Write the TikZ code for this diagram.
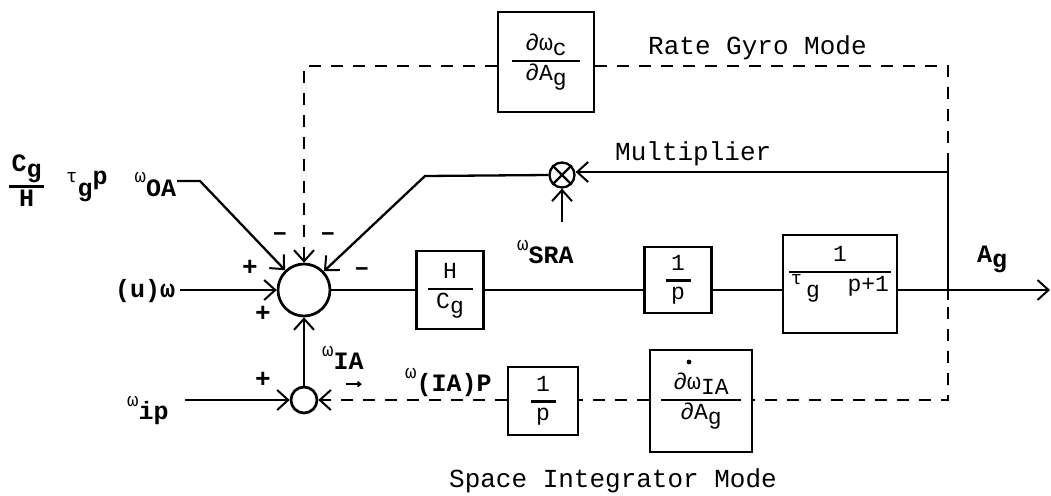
\documentclass[tikz,border=0pt]{standalone}
\usepackage{fontspec}
\setmonofont{Liberation Mono}
\usetikzlibrary{arrows.meta}
\newcommand\sub[1]{\raisebox{-0.45ex}{#1}}
\newcommand\gk[1]{\raisebox{0.6ex}{\fontsize{19}{19}\selectfont\mdseries #1}}
\newcommand\fr[3]{$\vcenter{\offinterlineskip\halign{\hfil##\hfil\cr\strut #1\cr\noalign{\kern2pt}\rule{#3}{2.6pt}\cr\noalign{\kern1pt}\strut #2\cr}}$}
\begin{document}
\begin{tikzpicture}[x=1pt,y=-1pt,
  every node/.style={font=\fontsize{23}{24}\selectfont\ttfamily, inner sep=0pt},
  big/.style={font=\fontsize{26}{28}\selectfont\ttfamily},
  lab/.style={font=\fontsize{25}{26}\selectfont\ttfamily\bfseries},
  sgn/.style={font=\fontsize{26}{26}\selectfont\ttfamily\bfseries},
  blk/.style 2 args={draw, line width=2.5pt, minimum width=#1, minimum height=#2},
  ln/.style={line width=2.3pt},
  dsh/.style={line width=2.3pt, dash pattern=on 12pt off 10pt},
  arr/.style={-{Straight Barb[length=11pt,width=20pt,line width=2pt]}},
  sumc/.style={draw, circle, line width=2.7pt, inner sep=0pt}]
\useasboundingbox (0,0) rectangle (1051,495);
% summing junctions
\node[sumc, minimum size=52pt] (sum) at (304,290) {};
\node[sumc, minimum size=26pt] (sum2) at (304,400) {};
\node[sumc, minimum size=25pt, line width=2.3pt] (mul) at (562,175) {};
\draw[ln] (mul.north west) -- (mul.south east) (mul.north east) -- (mul.south west);
% blocks
\node[blk={67pt}{78pt}] (hc) at (450,290) {\fr{H}{C\sub{g}}{45pt}};
\node[blk={67pt}{66pt}] (p1) at (678,280) {\fr{1}{p}{25pt}};
\node[blk={114pt}{98pt}] (tau) at (840,284) {\fr{1}{\gk{τ}\,\sub{g}\ \ p+1}{102pt}\rule[-44pt]{0pt}{1pt}};
\node[blk={96pt}{100pt}] (dc) at (546,62) {\fr{∂ω\sub{c}}{∂A\sub{g}}{68pt}};
\node[blk={102pt}{102pt}] (dia) at (701,401) {\fr{∂ω\sub{IA}}{∂A\sub{g}}{80pt}};
\node[blk={70pt}{68pt}] (p2) at (543,401) {\fr{1}{p}{25pt}};
\fill ([xshift=-12pt,yshift=39pt]dia.center) circle (2.4pt);
% coordinates
\coordinate (c1) at (304,66);
\coordinate (c2) at (948,66);
\coordinate (c3) at (948,400);
\coordinate (t1) at (948,157);
\coordinate (t2) at (948,300);
\coordinate (tm) at (948,172);
\coordinate (out) at (1050,290);
\coordinate (k1) at (425,176);
\coordinate (m2) at (562,222);
\coordinate (oa) at (177,181);
\coordinate (oa2) at (200,181);
\coordinate (uw) at (180,290);
\coordinate (ip) at (185,400);
% forward path
\draw[ln] (sum.east) -- (hc.west |- sum.east);
\draw[ln] (hc.east |- sum.east) -- (p1.west |- sum.east);
\draw[ln] (p1.east |- sum.east) -- (tau.west |- sum.east);
\draw[ln,arr] (tau.east |- sum.east) -- (out);
% rate gyro loop
\draw[dsh,arr] (dc.west |- c1) -- (c1) -- (sum.north);
\draw[dsh] (dc.east |- c1) -- (c2) -- (c3) -- (dia.east |- c3);
\draw[ln] (t1) -- (t2);
% multiplier loop
\draw[ln,arr] (tm) -- (mul.east |- tm);
\draw[ln,arr] (mul.west) -- (k1) -- (sum);
\draw[ln,arr] (m2) -- (mul.south);
% space integrator loop
\draw[dsh] (dia.west |- c3) -- (p2.east |- c3);
\draw[dsh,arr] (p2.west |- c3) -- (sum2.east);
\draw[ln,arr] (sum2.north) -- (sum.south);
% inputs
\draw[ln,arr] (ip) -- (sum2.west);
\draw[ln,arr] (uw) -- (sum.west);
\draw[ln,arr] (oa) -- (oa2) -- (sum);
% labels
\node[big, anchor=base west] (rg) at (648,55) {Rate Gyro Mode};
\node[big, anchor=base west] (mlt) at (615,160) {Multiplier};
\node[big, anchor=base east] (sim) at (777,487) {Space Integrator Mode};
\node[lab, anchor=base west] (ag) at (977,262) {A\sub{g}};
\node[lab, anchor=base west] (sra) at (517,258) {\gk{ω}\sub{SRA}};
\node[lab, anchor=base west] (wia) at (322,364) {\gk{ω}\sub{IA}};
\draw[line width=1.6pt,-{Straight Barb[length=3pt,width=5pt]}] ([xshift=-18pt,yshift=-14pt]wia.south east) -- ([xshift=-2pt,yshift=-14pt]wia.south east);
\node[lab, anchor=base west] (wiap) at (405,386) {\gk{ω}\sub{(IA)P}};
\node[lab, anchor=base west] (wip) at (127,414) {\gk{ω}\sub{ip}};
\node[lab, anchor=base west] (uwl) at (115,297) {(u)ω};
\node[lab, anchor=west] (oal) at (9,184) {\fr{C\sub{g}}{H}{35pt}\hspace{22pt}\gk{τ}\sub{g}\raisebox{0.4ex}{p}\hspace{27pt}\gk{ω}\sub{OA}};
\node[sgn] (pl1) at (250,268) {+};
\node[sgn] (pl2) at (263,314) {+};
\node[sgn] (pl3) at (263,380) {+};
\node[sgn] (mi1) at (280,237) {–};
\node[sgn] (mi2) at (328,237) {–};
\node[sgn] (mi3) at (362,272) {–};
\end{tikzpicture}
\end{document}
